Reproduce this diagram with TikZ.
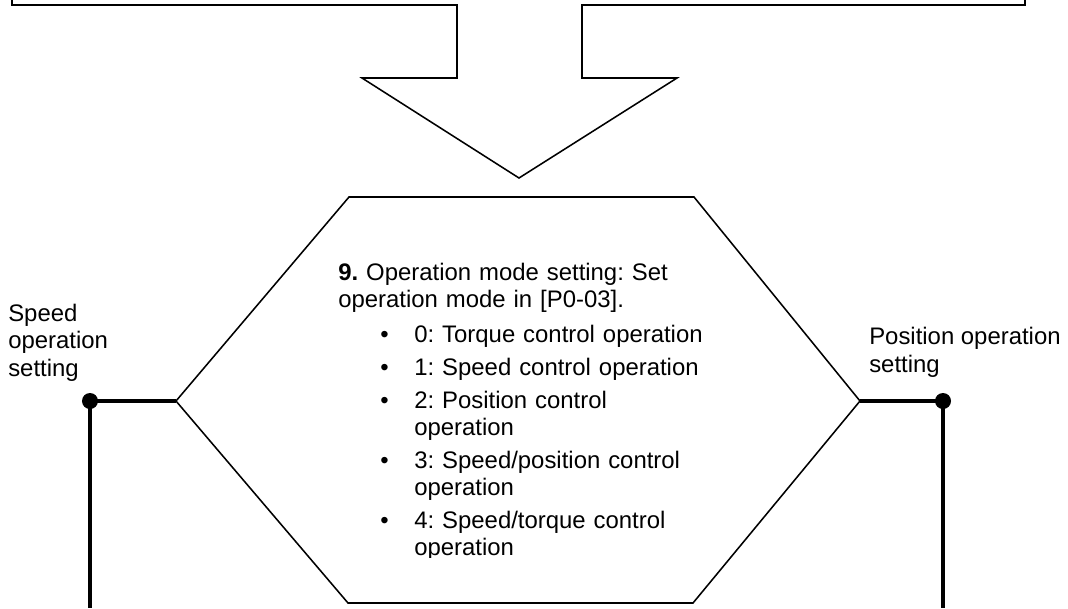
\documentclass[tikz,border=0pt]{standalone}
\usepackage{fontspec}
\setmainfont{Liberation Sans}
\usetikzlibrary{positioning}

\begin{document}
\begin{tikzpicture}[
  x=0.025cm, y=-0.025cm,
  font=\fontsize{17}{19.4}\selectfont\frenchspacing,
  outline/.style={line width=1.1pt, line join=miter},
  link/.style={line width=2.2pt},
  joint/.style={circle, fill=black, minimum size=0.4cm, inner sep=0pt},
  note/.style={anchor=base west, inner sep=0pt, align=left}
]
\useasboundingbox (0,0) rectangle (1068,608);

% ================= TOP: Arrow from previous step =================
\draw[outline] (12,0) -- (12,5) -- (457,5) -- (457,78) -- (362,78) -- (519,178)
  -- (677,78) -- (582,78) -- (582,5) -- (1025,5) -- (1025,0);

% ================= CENTRE: Hexagon =================
\coordinate (hexL) at (176,401);
\coordinate (hexR) at (860,401);
\draw[outline] (349,197) -- (694,197) -- (hexR) -- (693,603) -- (348,603) -- (hexL) -- cycle;

\begin{scope}
\clip (300,190) rectangle (860,557);
\node[note, text width=10cm] (mode) at (338,280) {\textbf{9.} Operation mode setting: Set\\
operation mode in [P0-03].
\begin{list}{\textbullet\hfill}{\setlength\leftmargin{1.9cm}\setlength\labelwidth{0.85cm}%
  \setlength\labelsep{0cm}\setlength\topsep{5.5pt}\setlength\itemsep{4pt}%
  \setlength\parsep{0pt}\setlength\partopsep{0pt}}
\item 0: Torque control operation
\item 1: Speed control operation
\item 2: Position control\\ operation
\item 3: Speed/position control\\ operation
\item 4: Speed/torque control\\ operation
\end{list}};
\end{scope}

% ================= SIDES: Branches =================
\node[joint] (speed) at (90,401) {};
\node[joint] (position) at (943,401) {};
\coordinate (speedEnd) at (90,608);
\coordinate (positionEnd) at (943,608);

\draw[link] (speed.center) -- (hexL);
\draw[link] (speed.center) -- (speedEnd);
\draw[link] (hexR) -- (position.center);
\draw[link] (position.center) -- (positionEnd);

\node[note] (speedText) at (8,376) {Speed\\operation\\setting};
\node[note] (positionText) at (869,372) {Position operation\\setting};

\end{tikzpicture}
\end{document}
